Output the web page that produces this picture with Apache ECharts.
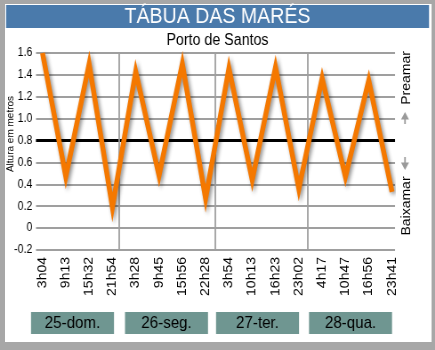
<!DOCTYPE html>
<html>
<head>
<meta charset="utf-8">
<script src="https://cdn.jsdelivr.net/npm/echarts@6/dist/echarts.min.js"></script>
<style>
html,body{margin:0;padding:0;width:435px;height:350px;overflow:hidden;background:#a7a7a7;}
#frame{position:absolute;left:5px;top:4px;width:426px;height:338px;background:#fff;border-right:1px solid #d8d8d8;}
#chart{position:absolute;left:0;top:0;width:489px;height:350px;transform:scaleX(0.8896);transform-origin:0 0;}
</style>
</head>
<body>
<div id="frame"></div>
<div id="chart"></div>
<script>
// ---- data ----
const timeLabels = ['3h04','9h13','15h32','21h54','3h28','9h45','15h56','22h28','3h54','10h13','16h23','23h02','4h17','10h47','16h56','23h41'];
const tideHeights = [1.6, 0.47, 1.5, 0.19, 1.43, 0.48, 1.5, 0.27, 1.46, 0.44, 1.47, 0.36, 1.37, 0.47, 1.35, 0.33];
const meanLevel = 0.8;
const dayLabels = ['25-dom.', '26-seg.', '27-ter.', '28-qua.'];
const daySeparators = [3.3, 7.42, 11.39];
const yTicks = {min: -0.2, max: 1.6, step: 0.2};
const titleText = 'TÁBUA DAS MARÉS';
const subtitleText = 'Porto de Santos';
const yName = 'Altura em metros';

// ---- layout helpers (reference px -> unscaled chart px) ----
const SX = 435 / 489;
const X = v => v / SX;
const FONT = '"Liberation Sans", Arial, sans-serif';

const chart = echarts.init(document.getElementById('chart'), null, {renderer: 'canvas'});

const dayBoxes = [[31,114],[125,208],[216,299],[309,392]];
const graphics = [
  {type:'rect', shape:{x:X(6), y:5, width:X(429)-X(6), height:23}, style:{fill:'#4a7aab'}},
  {type:'text', x:X(217.5), y:17, style:{text:titleText, font:'22px ' + FONT, fill:'#fff', align:'center', verticalAlign:'middle'}},
  {type:'text', x:X(217.5), y:40.5, style:{text:subtitleText, font:'16px ' + FONT, fill:'#000', align:'center', verticalAlign:'middle'}},
  {type:'text', x:X(10.5), y:134, rotation:Math.PI/2, style:{text:yName, font:'10px ' + FONT, fill:'#000', align:'center', verticalAlign:'middle'}},
  {type:'text', x:X(407), y:78, rotation:Math.PI/2, style:{text:'Preamar', font:'14px ' + FONT, fill:'#000', align:'center', verticalAlign:'middle'}},
  {type:'text', x:X(407), y:206, rotation:Math.PI/2, style:{text:'Baixamar', font:'14px ' + FONT, fill:'#000', align:'center', verticalAlign:'middle'}},
  {type:'polygon', shape:{points:[[X(405),112],[X(401),119.5],[X(409),119.5]]}, style:{fill:'#9a9a9a'}},
  {type:'rect', shape:{x:X(404.2), y:119, width:X(1.6), height:5}, style:{fill:'#9a9a9a'}},
  {type:'polygon', shape:{points:[[X(405),170],[X(401),162.5],[X(409),162.5]]}, style:{fill:'#9a9a9a'}},
  {type:'rect', shape:{x:X(404.2), y:157, width:X(1.6), height:6}, style:{fill:'#9a9a9a'}}
];
dayLabels.forEach((d, i) => {
  const [a, b] = dayBoxes[i];
  graphics.push({type:'rect', shape:{x:X(a), y:312, width:X(b)-X(a), height:22}, style:{fill:'#6f9691'}});
  graphics.push({type:'text', x:X((a+b)/2), y:323.5, style:{text:d, font:'17px ' + FONT, fill:'#000', align:'center', verticalAlign:'middle'}});
});

const gridTop = 53, gridBottom = 350 - 250;
const option = {
  animation: false,
  graphic: {elements: graphics},
  grid: [
    {left: X(36), right: 489 - X(395), top: gridTop, bottom: gridBottom},
    {left: X(42.5), right: 489 - X(392), top: gridTop, bottom: gridBottom}
  ],
  xAxis: [
    {gridIndex:0, type:'value', min:0, max:1, show:false},
    {gridIndex:1, type:'value', min:0, max:timeLabels.length - 1, interval:1,
     axisLine:{show:false}, axisTick:{show:false}, splitLine:{show:false},
     axisLabel:{rotate:90, margin:7, fontSize:14, fontFamily:FONT, color:'#000',
       formatter: v => timeLabels[Math.round(v)] || ''}}
  ],
  yAxis: [
    {gridIndex:0, type:'value', min:yTicks.min, max:yTicks.max, interval:yTicks.step,
     axisLine:{show:false}, axisTick:{show:false},
     splitLine:{lineStyle:{color:'#9f9f9f', width:2}},
     axisLabel:{margin:4, fontSize:12, fontFamily:FONT, color:'#000',
       formatter: v => { const r = Math.round(v*10)/10; return r === 0 ? '0' : r.toFixed(1); }}},
    {gridIndex:1, type:'value', min:yTicks.min, max:yTicks.max, interval:yTicks.step, show:false}
  ],
  series: [
    {type:'line', xAxisIndex:0, yAxisIndex:0, data:[[0, meanLevel],[1, meanLevel]], symbol:'none', silent:true,
     lineStyle:{color:'#000', width:3}, z:3},
    {type:'line', xAxisIndex:1, yAxisIndex:1, data: tideHeights.map((v,i)=>[i, v]), symbol:'none', z:5,
     lineStyle:{color:'#f47800', width:5.5, join:'miter', miterLimit:30, cap:'butt',
       shadowColor:'rgba(0,0,0,0.45)', shadowBlur:4, shadowOffsetX:2, shadowOffsetY:2},
     markLine:{silent:true, symbol:'none', label:{show:false},
       lineStyle:{color:'#9f9f9f', width:1.8, type:'solid'},
       data: daySeparators.map(v => ({xAxis: v}))}}
  ]
};
chart.setOption(option);
</script>
</body>
</html>
